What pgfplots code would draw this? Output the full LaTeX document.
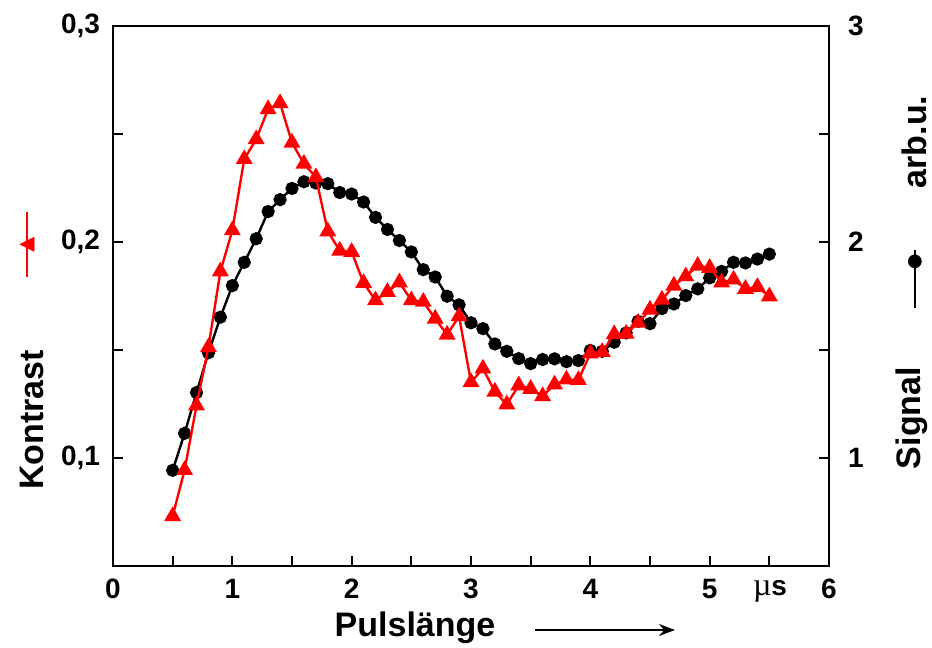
\documentclass[border=0pt]{standalone}
\usepackage{pgfplots}
\pgfplotsset{compat=1.18}
\usepackage{pgfplotstable}
\usepackage{fontspec}
\setmainfont{Liberation Sans}
\newfontfamily\seriffont{Liberation Serif}
\newfontfamily\dejavu{DejaVu Sans}
\usetikzlibrary{arrows.meta}

\pgfplotstableread{
x k
0.5 0.0731
0.6 0.0944
0.7 0.1243
0.8 0.1513
0.9 0.1864
1.0 0.2054
1.1 0.2384
1.2 0.2476
1.3 0.2615
1.4 0.2643
1.5 0.2460
1.6 0.2362
1.7 0.2300
1.8 0.2049
1.9 0.1960
2.0 0.1954
2.1 0.1810
2.2 0.1730
2.3 0.1769
2.4 0.1813
2.5 0.1730
2.6 0.1723
2.7 0.1645
2.8 0.1571
2.9 0.1656
3.0 0.1351
3.1 0.1414
3.2 0.1307
3.3 0.1248
3.4 0.1336
3.5 0.1320
3.6 0.1286
3.7 0.1340
3.8 0.1363
3.9 0.1361
4.0 0.1484
4.1 0.1491
4.2 0.1573
4.3 0.1575
4.4 0.1626
4.5 0.1687
4.6 0.1733
4.7 0.1798
4.8 0.1841
4.9 0.1890
5.0 0.1880
5.1 0.1813
5.2 0.1826
5.3 0.1783
5.4 0.1792
5.5 0.1748
}\kontrast

\pgfplotstableread{
x s
0.5 0.943
0.6 1.114
0.7 1.303
0.8 1.487
0.9 1.652
1.0 1.798
1.1 1.906
1.2 2.015
1.3 2.141
1.4 2.196
1.5 2.248
1.6 2.279
1.7 2.273
1.8 2.270
1.9 2.229
2.0 2.222
2.1 2.185
2.2 2.114
2.3 2.058
2.4 2.007
2.5 1.954
2.6 1.872
2.7 1.838
2.8 1.749
2.9 1.709
3.0 1.626
3.1 1.599
3.2 1.528
3.3 1.494
3.4 1.460
3.5 1.437
3.6 1.456
3.7 1.459
3.8 1.446
3.9 1.451
4.0 1.498
4.1 1.494
4.2 1.536
4.3 1.579
4.4 1.633
4.5 1.622
4.6 1.692
4.7 1.713
4.8 1.752
4.9 1.783
5.0 1.834
5.1 1.864
5.2 1.906
5.3 1.903
5.4 1.921
5.5 1.944
}\signal

\begin{document}
\begin{tikzpicture}
\path[use as bounding box] (-56.5pt,-41pt) rectangle (409.5pt,283pt);
% right axis: Signal
\begin{axis}[
  scale only axis, width=358pt, height=270pt,
  xmin=0, xmax=6, ymin=0.5, ymax=3,
  axis x line=none, axis y line*=right,
  axis line style={line width=1pt, -},
  ytick={1,2,3}, minor ytick={1.5,2.5},
  tick align=inside,
  major tick length=5pt, minor tick length=5pt,
  tick style={line width=1pt, black},
  yticklabel style={font=\bfseries\fontsize{14}{14}\selectfont, xshift=6pt},
  /pgf/number format/assume math mode=true,
]
\addplot[black, line width=1.2pt, mark=*, mark size=2.7pt] table[x=x, y=s] {\signal};
\end{axis}
% left axis: Kontrast
\begin{axis}[
  scale only axis, width=358pt, height=270pt,
  xmin=0, xmax=6, ymin=0.05, ymax=0.3,
  axis line style={line width=1pt},
  xtick={0,1,2,3,4,5,6}, minor xtick={0.5,1.5,2.5,3.5,4.5,5.5},
  ytick={0.1,0.2,0.3}, yticklabels={{0,1},{0,2},{0,3}},
  minor ytick={0.15,0.25},
  tick align=inside, xtick pos=left, ytick pos=left,
  major tick length=5pt, minor tick length=5pt,
  tick style={line width=1pt, black},
  tick label style={font=\bfseries\fontsize{14}{14}\selectfont},
  xticklabel style={yshift=-3pt},
  yticklabel style={xshift=-3pt},
  /pgf/number format/assume math mode=true,
]
\addplot[red, line width=1.2pt, mark=triangle*, mark size=3.7pt] table[x=x, y=k] {\kontrast};
\end{axis}
% labels
\node[rotate=90, font=\bfseries\fontsize{17}{17}\selectfont] at (-40.5pt,73pt) {Kontrast};
\draw[red, line width=1pt] (-43pt,144.5pt) -- (-43pt,177pt);
\node[rotate=90, text=red, inner sep=0pt, font=\dejavu\fontsize{10}{10}\selectfont] at (-43pt,160.5pt) {▲};
\node[rotate=90, font=\bfseries\fontsize{17}{17}\selectfont] at (399.5pt,74pt) {Signal};
\draw[black, line width=1pt] (401pt,129pt) -- (401pt,158pt);
\node[inner sep=0pt, font=\dejavu\fontsize{9}{9}\selectfont] at (401pt,152pt) {●};
\node[rotate=90, font=\bfseries\fontsize{17}{17}\selectfont] at (400.5pt,212pt) {arb.u.};
\node[font=\bfseries\fontsize{17}{17}\selectfont] at (151pt,-31pt) {Pulslänge};
\draw[line width=1pt, -{Stealth[length=8pt, width=6pt]}] (211pt,-32pt) -- (281pt,-32pt);
\node[font=\bfseries\fontsize{14}{14}\selectfont] at (328.5pt,-12.5pt) {{\seriffont\mdseries\fontsize{16}{16}\selectfont µ}s};
\end{tikzpicture}
\end{document}
